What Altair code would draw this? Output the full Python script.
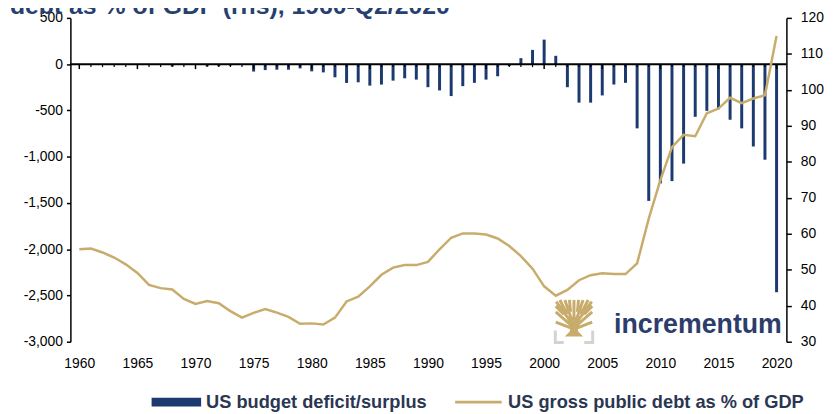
import altair as alt
import pandas as pd

# ---------------- data ----------------
years = list(range(1960, 2021))
deficit = [0, -3, -7, -5, -6, -1, -4, -9, -25, 3,
           -3, -23, -23, -15, -6, -80, -64, -60, -60, -46,
           -78, -89, -142, -203, -196, -232, -221, -178, -153, -167,
           -249, -284, -345, -238, -202, -167, -131, -20, 65, 154,
           265, 90, -249, -416, -416, -338, -220, -202, -694, -1478,
           -1289, -1264, -1075, -569, -505, -487, -601, -694, -890, -1033,
           -2465]
debt = [55.7, 55.9, 54.8, 53.4, 51.5, 49.1, 45.8, 44.9, 44.5, 41.9,
        40.5, 41.3, 40.7, 38.5, 36.7, 38.0, 39.1, 38.1, 36.9, 35.0,
        35.1, 34.8, 36.7, 41.2, 42.5, 45.4, 48.6, 50.6, 51.3, 51.3,
        52.2, 55.7, 58.9, 60.1, 60.1, 59.8, 58.7, 56.6, 53.8, 50.3,
        45.4, 42.8, 44.4, 47.1, 48.5, 49.0, 48.8, 48.8, 51.8, 64.2,
        74.9, 84.1, 87.5, 87.1, 93.5, 94.8, 97.8, 96.3, 97.6, 98.5,
        115.0]
x_ticks = list(range(1960, 2021, 5))
left_ticks = [500, 0, -500, -1000, -1500, -2000, -2500, -3000]
right_ticks = list(range(30, 121, 10))
bar_label = "US budget deficit/surplus"
line_label = "US gross public debt as % of GDP"
title_text = "debt as % of GDP (rhs), 1960-Q2/2020"
logo_text = "incrementum"

# ---------------- styles ----------------
NAVY = "#1c3a70"
GOLD = "#c8ac6c"
TITLE_NAVY = "#26406f"
LOGO_NAVY = "#2c3d6b"
LEGEND_TXT = "#2b3752"
FONT = "Liberation Sans"

df = pd.DataFrame({"year": years, "deficit": deficit, "debt": debt})
df["bar_s"] = bar_label
df["line_s"] = line_label
df["major"] = [y % 5 == 0 for y in years]

one = pd.DataFrame({"t": [title_text], "logo": [logo_text]})

xscale = alt.Scale(domain=[1959.66, 2020.42], nice=False, zero=False)

bars = alt.Chart(df).mark_bar(size=3).encode(
    x=alt.X("year:Q", scale=xscale,
            axis=alt.Axis(values=x_ticks, format="d", domain=False, ticks=False,
                          tickSize=0, grid=False, labelPadding=15, title=None)),
    y=alt.Y("deficit:Q", scale=alt.Scale(domain=[-3000, 500], nice=False, zero=False),
            axis=alt.Axis(values=left_ticks, tickSize=4, labelPadding=4, title=None,
                          labelExpr="datum.value < 0 ? '-' + format(-datum.value, ',') : format(datum.value, ',')")),
    y2=alt.datum(0),
    color=alt.Color("bar_s:N", scale=alt.Scale(domain=[bar_label], range=[NAVY]),
                    legend=alt.Legend(orient="none", legendX=82, legendY=363, title=None,
                                      symbolType="M-1,-0.18H1V0.18H-1Z", symbolSize=2500,
                                      symbolStrokeWidth=0, symbolOpacity=1, labelLimit=0,
                                      labelFontSize=18.4, labelFont=FONT, labelFontWeight="bold",
                                      labelColor=LEGEND_TXT, labelOffset=5)),
)

zero_line = alt.Chart(one).mark_rule(color="black", strokeWidth=2).encode(y=alt.datum(0))

ticks_major = alt.Chart(df).transform_filter("datum.major").mark_tick(
    orient="vertical", color="black", thickness=1.5, size=5, yOffset=2.5, opacity=1
).encode(x="year:Q", y=alt.datum(0))

ticks_minor = alt.Chart(df).transform_filter("!datum.major").mark_tick(
    orient="vertical", color="black", thickness=1.2, size=3, yOffset=1.5, opacity=1
).encode(x="year:Q", y=alt.datum(0))

left = alt.layer(bars, zero_line, ticks_major, ticks_minor)

line = alt.Chart(df).mark_line(strokeWidth=2.5).encode(
    x="year:Q",
    y=alt.Y("debt:Q", scale=alt.Scale(domain=[30, 120], nice=False, zero=False),
            axis=alt.Axis(orient="right", values=right_ticks, tickSize=5, labelPadding=9, title=None)),
    stroke=alt.Stroke("line_s:N", scale=alt.Scale(domain=[line_label], range=[GOLD]),
                      legend=alt.Legend(orient="none", legendX=387, legendY=363, title=None,
                                        symbolType="stroke", symbolSize=2209, symbolStrokeWidth=3,
                                        labelLimit=0,
                                        labelFontSize=18.4, labelFont=FONT, labelFontWeight="bold",
                                        labelColor=LEGEND_TXT, labelOffset=5)),
)

title = alt.Chart(one).mark_text(
    align="left", baseline="alphabetic", fontSize=25, fontWeight="bold", color=TITLE_NAVY, font=FONT
).encode(x=alt.value(-61), y=alt.value(-4), text="t:N")

logo = alt.Chart(one).mark_text(
    align="left", baseline="alphabetic", fontSize=27, fontWeight="bold", color=LOGO_NAVY, font=FONT
).encode(x=alt.value(549), y=alt.value(318), text="logo:N")

TRUNK = "M-0.14,0.0 L0.14,0.0 L0.18,0.45 L0.4,0.68 L-0.4,0.68 L-0.18,0.45 Z"
BRANCHES = ("M0,0.2 L0,-0.92 M-0.05,0.1 L-0.4,-0.92 M0.05,0.1 L0.4,-0.92 "
            "M-0.08,0.12 L-0.78,-0.85 M0.08,0.12 L0.78,-0.85 M-0.1,0.22 L-0.8,-0.4 "
            "M0.1,0.22 L0.8,-0.4 M-0.12,0.32 L-0.8,0.05 M0.12,0.32 L0.8,0.05 "
            "M-0.3,-0.3 L-0.62,-0.92 M0.3,-0.3 L0.62,-0.92 "
            "M-0.45,-0.3 L-0.8,-0.65 M0.45,-0.3 L0.8,-0.65 M-0.15,-0.4 L-0.2,-0.92 M0.15,-0.4 L0.2,-0.92")
BRACKETS = "M-0.82,0.42 L-0.82,0.95 L-0.45,0.95 M0.82,0.42 L0.82,0.95 L0.45,0.95"

trunk = alt.Chart(one).mark_point(shape=TRUNK, filled=True, fill=GOLD, strokeWidth=0,
                                  size=2116, opacity=1).encode(x=alt.value(508.5), y=alt.value(306))
branches = alt.Chart(one).mark_point(shape=BRANCHES, filled=False, stroke=GOLD, strokeWidth=3,
                                     size=2116, opacity=1).encode(x=alt.value(508.5), y=alt.value(306))
brackets = alt.Chart(one).mark_point(shape=BRACKETS, filled=False, stroke="#d3d3d3", strokeWidth=3,
                                     size=2116, opacity=1).encode(x=alt.value(508.5), y=alt.value(306))

chart = alt.layer(left, line, title, logo, trunk, branches, brackets).resolve_scale(
    y="independent"
).properties(
    width=723, height=327,
    padding={"left": 63, "top": 8, "right": 42, "bottom": 71},
    autosize=alt.AutoSizeParams(type="none"),
).configure_view(stroke=None).configure_axis(
    domainColor="black", tickColor="black", domainWidth=1.5, tickWidth=1.5, grid=False,
    labelFont=FONT, labelFontSize=14, labelColor="#000000"
)

chart.save("out.html", embed_options={"renderer": "svg", "actions": False})
